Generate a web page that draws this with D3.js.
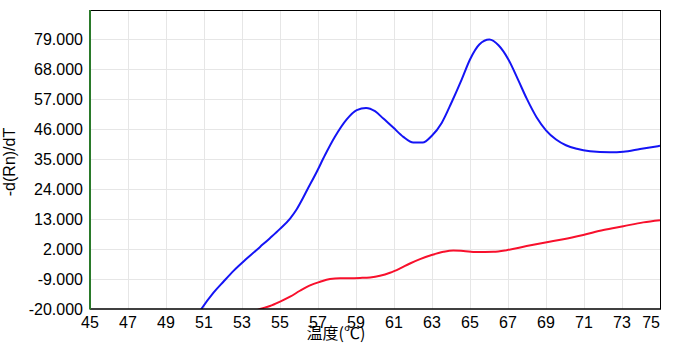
<!DOCTYPE html>
<html>
<head>
<meta charset="utf-8">
<script src="https://cdn.jsdelivr.net/npm/d3@7"></script>
<style>
  body { margin: 0; background: #fff; }
  text { font-family: Arial, "Liberation Sans", sans-serif; }
</style>
</head>
<body>
<script>
// melt curve values
var blueTemp = [50.4, 50.86, 51.49, 52.02, 52.54, 53.25, 53.95, 54.47, 55, 55.53, 55.88, 56.23, 56.4, 56.93, 57.37, 57.89, 58.51, 59.04, 59.53, 60, 60.44, 60.96, 61.49, 62.02, 62.51, 62.98, 63.51, 64.04, 64.56, 65, 65.49, 66.02, 66.5, 67.02, 67.54, 67.98, 68.51, 69, 69.53, 70.05, 70.62, 71.32, 72.37, 73.07, 73.95, 75];
var blueVal = [-25, -20, -14.1, -10, -6.1, -1.5, 2.8, 6.0, 9.4, 13.2, 16.6, 21.0, 23.3, 30.3, 36.5, 43.2, 49.6, 53, 53.8, 52.6, 49.9, 46.6, 43.2, 41.1, 41.1, 43.5, 48.3, 56, 64.2, 71.6, 77.1, 78.9, 76.8, 71.6, 64, 57.3, 50.3, 45.6, 42.2, 40.1, 38.8, 37.9, 37.5, 37.7, 38.7, 39.9];

var redTemp = [53.4, 53.95, 54.47, 55, 55.53, 56.05, 56.58, 57.11, 57.63, 58.16, 58.68, 59.21, 59.74, 60.26, 60.79, 61.32, 61.84, 62.37, 62.98, 63.6, 64.12, 64.65, 65.35, 66.23, 66.93, 67.98, 69.04, 69.91, 70.96, 72.02, 73.07, 74.12, 75];
var redVal = [-21.5, -20, -18.9, -17.3, -15.5, -13.3, -11.3, -10, -9, -8.7, -8.7, -8.6, -8.4, -7.8, -6.7, -5.1, -3.3, -1.7, -0.2, 1, 1.5, 1.3, 0.9, 1, 1.6, 3.1, 4.5, 5.6, 7.2, 9, 10.4, 11.8, 12.6];

var yTicks = [-20, -9, 2, 13, 24, 35, 46, 57, 68, 79];
var xTicks = [45, 47, 49, 51, 53, 55, 57, 59, 61, 63, 65, 67, 69, 71, 73, 75];

var W = 674, H = 344;
var pLeft = 90, pRight = 660, pTop = 10, pBottom = 309;

var svg = d3.select("body").append("svg").attr("width", W).attr("height", H);

var x = d3.scaleLinear().domain([45, 75]).range([pLeft, pRight]);
var y = d3.scaleLinear().domain([-20, 79]).range([pBottom, 39.3]);

svg.append("defs").append("clipPath").attr("id", "plot")
  .append("rect").attr("x", pLeft).attr("y", pTop).attr("width", pRight - pLeft).attr("height", pBottom - pTop);

// grid
svg.append("g").selectAll("line").data(yTicks.slice(1)).enter().append("line")
  .attr("x1", pLeft).attr("x2", pRight)
  .attr("y1", function(d) { return Math.round(y(d)) + 0.5; })
  .attr("y2", function(d) { return Math.round(y(d)) + 0.5; })
  .attr("stroke", "#e6e6e6");
svg.append("g").selectAll("line").data(xTicks.slice(1, -1)).enter().append("line")
  .attr("y1", pTop).attr("y2", pBottom)
  .attr("x1", function(d) { return Math.round(x(d)) + 0.5; })
  .attr("x2", function(d) { return Math.round(x(d)) + 0.5; })
  .attr("stroke", "#e6e6e6");

// curves
var line = d3.line().curve(d3.curveMonotoneX);
var g = svg.append("g").attr("clip-path", "url(#plot)");
g.append("path")
  .attr("d", line(redTemp.map(function(t, i) { return [x(t), y(redVal[i])]; })))
  .attr("fill", "none").attr("stroke", "#f8102c").attr("stroke-width", 2);
g.append("path")
  .attr("d", line(blueTemp.map(function(t, i) { return [x(t), y(blueVal[i])]; })))
  .attr("fill", "none").attr("stroke", "#1414f5").attr("stroke-width", 2);

// frame
svg.append("line").attr("x1", pLeft).attr("x2", pRight + 1).attr("y1", pTop + 0.5).attr("y2", pTop + 0.5).attr("stroke", "#000");
svg.append("line").attr("x1", pRight + 0.5).attr("x2", pRight + 0.5).attr("y1", pTop).attr("y2", pBottom).attr("stroke", "#000");
svg.append("line").attr("x1", pLeft).attr("x2", pRight + 1).attr("y1", pBottom).attr("y2", pBottom).attr("stroke", "#000").attr("stroke-width", 1.5);
svg.append("line").attr("x1", pLeft).attr("x2", pLeft).attr("y1", pTop).attr("y2", pBottom + 0.5).attr("stroke", "#2a7a2a").attr("stroke-width", 2);

// tick labels
svg.append("g").selectAll("text").data(yTicks).enter().append("text")
  .attr("x", 83).attr("y", function(d) { return y(d); })
  .attr("dy", "0.35em").attr("text-anchor", "end")
  .attr("font-size", 16).attr("fill", "#000")
  .text(function(d) { return d.toFixed(3); });

svg.append("g").selectAll("text").data(xTicks).enter().append("text")
  .attr("x", function(d, i) { return i == xTicks.length - 1 ? pRight : x(d); })
  .attr("y", 328)
  .attr("text-anchor", function(d, i) { return i == xTicks.length - 1 ? "end" : "middle"; })
  .attr("font-size", 16).attr("fill", "#000")
  .text(function(d) { return d; });

// axis titles
svg.append("text").attr("x", 336).attr("y", 339).attr("text-anchor", "middle")
  .attr("font-size", 16).style("font-family", "'Noto Sans CJK JP', 'Noto Sans CJK SC', sans-serif")
  .text("温度(℃)");
svg.append("text").attr("transform", "translate(15,162) rotate(-90)")
  .attr("text-anchor", "middle").attr("font-size", 16)
  .text("-d(Rn)/dT");
</script>
</body>
</html>
